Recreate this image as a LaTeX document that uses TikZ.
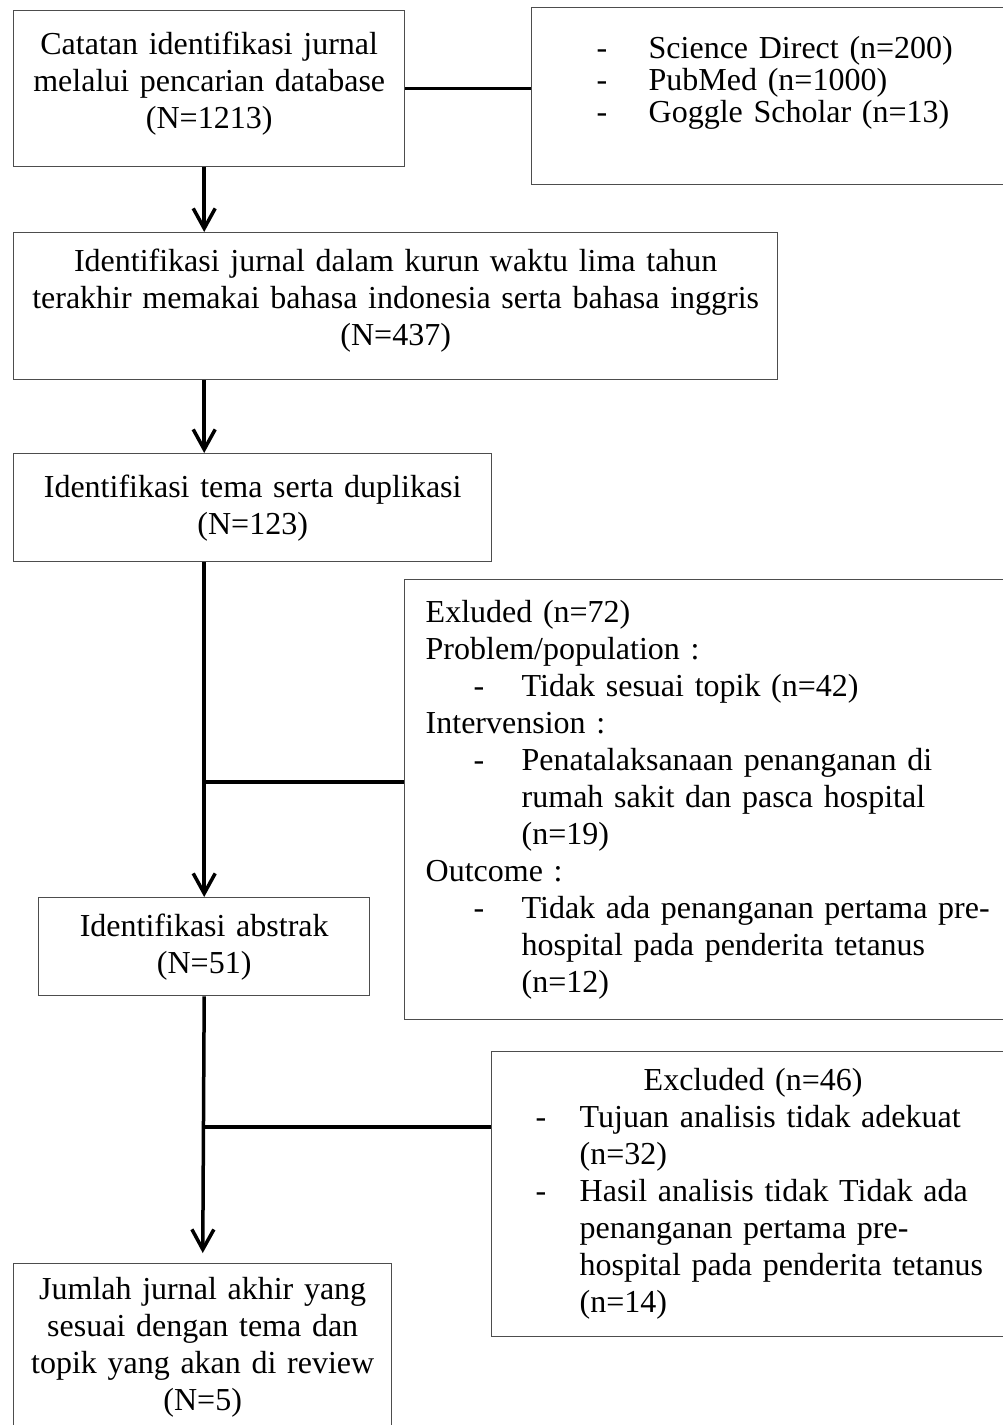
\documentclass[tikz,border=0pt]{standalone}
\usepackage{fontspec}
\setmainfont{Liberation Serif}
\usetikzlibrary{arrows.meta,positioning,calc}
\definecolor{garis}{HTML}{4D4D4D}
\setlength{\parindent}{0pt}
\newcommand{\teks}{\fontsize{32}{37}\selectfont}
\newcommand{\tekssumber}{\fontsize{32}{31.7}\selectfont}
% baris bertanda "-" dengan indentasi gantung
\newcommand{\butir}[3]{\par\noindent\hangindent=#2\hangafter=1\makebox[#2][l]{\hspace*{#1}-}#3\par}
% ruang kosong di bawah teks
\newcommand{\ruang}[1]{\par\hrule height #1 width 0pt\relax}
\tikzset{
  kotak/.style={
    rectangle, draw=garis, line width=1.4pt,
    anchor=north west, font=\teks, align=center,
    inner xsep=10pt, inner ysep=0pt
  },
  kotakkiri/.style={kotak, align=left, inner xsep=#1},
  kotakkiri/.default=20pt,
  panah/.style={
    -{Straight Barb[length=20pt,width=22pt]}, line width=3.5pt, color=black
  },
  cabang/.style={line width=3.5pt, color=black},
}
\begin{document}
\begin{tikzpicture}[x=1pt, y=-1pt]
  \useasboundingbox (0,0) rectangle (1003,1425);
  % kolom utama
  \node[kotak, text width=371pt, minimum height=156pt] (catat) at (13,10)
    {Catatan identifikasi jurnal\\ melalui pencarian database\\ (N=1213)\ruang{10pt}};
  \node[kotak, text width=744pt, minimum height=147pt] (waktu) at (13,232)
    {Identifikasi jurnal dalam kurun waktu lima tahun\\ terakhir memakai bahasa indonesia serta bahasa inggris\\ (N=437)\ruang{12pt}};
  \node[kotak, text width=458pt, minimum height=108pt] (tema) at (13,453)
    {Identifikasi tema serta duplikasi\\ (N=123)};
  \node[kotak, text width=311pt, minimum height=98pt] (abstrak) at (38,897)
    {Identifikasi abstrak\\ (N=51)};
  \node[kotak, text width=358pt, minimum height=168pt] (final) at (13,1263)
    {Jumlah jurnal akhir yang\\ sesuai dengan tema dan\\ topik yang akan di review\\ (N=5)};
  % kotak samping
  \node[kotakkiri, font=\tekssumber, text width=445pt, minimum height=177pt] (sumber) at (531,7)
    {\butir{45pt}{97pt}{Science Direct (n=200)}\butir{45pt}{97pt}{PubMed (n=1000)}\butir{45pt}{97pt}{Goggle Scholar (n=13)}\ruang{36pt}};
  \node[kotakkiri=21pt, text width=570pt, minimum height=440pt] (exA) at (404,579)
    {Exluded (n=72)\par Problem/population :\butir{48pt}{96pt}{Tidak sesuai topik (n=42)}Intervension :\butir{48pt}{96pt}{Penatalaksanaan penanganan di\newline rumah sakit dan pasca hospital\newline (n=19)}Outcome :\butir{48pt}{96pt}{Tidak ada penanganan pertama pre-\newline hospital pada penderita tetanus\newline (n=12)}};
  \node[kotakkiri, text width=485pt, minimum height=285pt] (exB) at (491,1051)
    {\hspace*{132pt}Excluded (n=46)\butir{24pt}{68pt}{Tujuan analisis tidak adekuat\newline (n=32)}\butir{24pt}{68pt}{Hasil analisis tidak Tidak ada\newline penanganan pertama pre-\newline hospital pada penderita tetanus\newline (n=14)}};
  \coordinate (cabangA) at (203.5,782);
  \coordinate (cabangB) at (203.5,1127);
  % penghubung
  \draw[cabang] (catat.east) -- (catat.east -| sumber.west);
  \draw[panah] (catat.south -| abstrak) -- (waktu.north -| abstrak);
  \draw[panah] (waktu.south -| abstrak) -- (tema.north -| abstrak);
  \draw[panah] (tema.south -| abstrak) -- (abstrak.north);
  \draw[cabang] (cabangA) -- (cabangA -| exA.west);
  \draw[panah, shorten >=10pt] (abstrak.south) -- (final.north);
  \draw[cabang] (cabangB) -- (cabangB -| exB.west);
\end{tikzpicture}
\end{document}
